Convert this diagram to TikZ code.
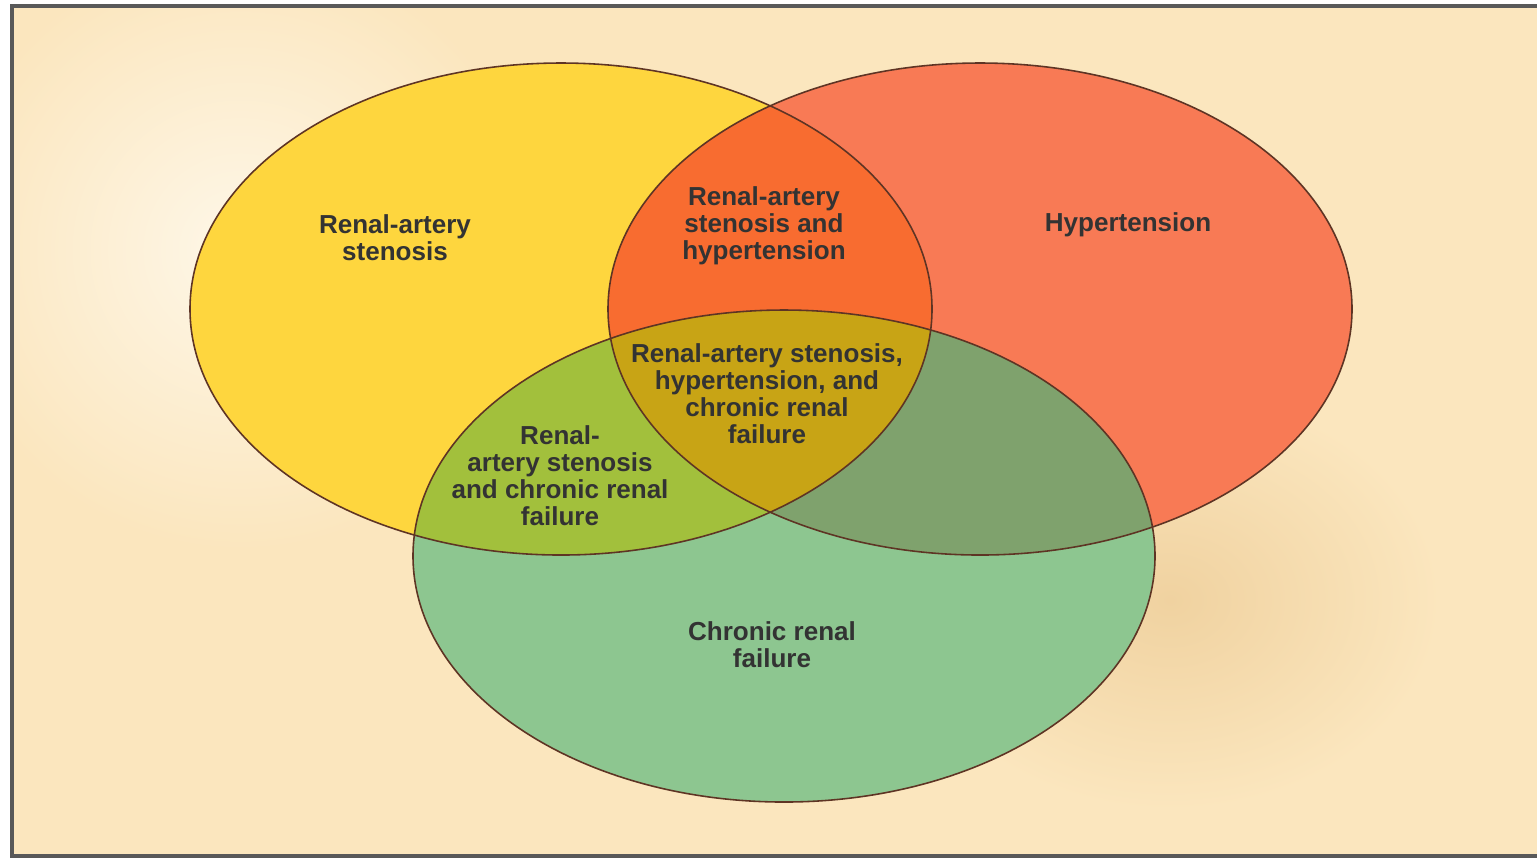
\documentclass[tikz,border=0pt]{standalone}
\usepackage{fontspec}
\setmainfont{Liberation Sans}
\usetikzlibrary{positioning}

\definecolor{bgcol}{HTML}{FBE6BE}
\definecolor{glowcol}{HTML}{FEF7E8}
\definecolor{shadecol}{HTML}{F0D2A0}
\definecolor{yelcol}{HTML}{FED63E}
\definecolor{redcol}{HTML}{F87A55}
\definecolor{grecol}{HTML}{8DC690}
\definecolor{yrcol}{HTML}{F86C30}
\definecolor{ygcol}{HTML}{A2C03C}
\definecolor{rgcol}{HTML}{7FA26D}
\definecolor{allcol}{HTML}{C8A415}
\definecolor{rimcol}{HTML}{5E3424}

% the three sets
\def\yelset{(561,309) ellipse (371 and 246)}
\def\redset{(980,309) ellipse (372 and 246)}
\def\greset{(784,556) ellipse (371 and 246)}

\begin{document}
\begin{tikzpicture}[x=0.01cm,y=-0.01cm,
    lbl/.style={align=center,text=black!80,font=\bfseries\fontsize{7.4}{7.7}\selectfont},
    rim/.style={draw=rimcol,line width=0.45pt}]
    \useasboundingbox (0,0) rectangle (1537,859);

    %sfondo
    \fill[white] (0,0) rectangle (1537,859);
    \fill[bgcol] (12,6) rectangle (1537,856);
    \begin{scope}
        \clip (12,6) rectangle (1537,856);
        \shade[inner color=glowcol,outer color=bgcol] (240,250) circle (300);
        \shade[inner color=shadecol,outer color=bgcol] (1170,600) ellipse (270 and 210);
    \end{scope}
    \draw[gray!70!black,line width=1.1pt] (1537,6) -- (12,6) -- (12,856) -- (1537,856);

    %insiemi
    \fill[yelcol] \yelset;
    \fill[redcol] \redset;
    \fill[grecol] \greset;

    %intersezioni
    \begin{scope}
        \clip \yelset;
        \fill[yrcol] \redset;
        \fill[ygcol] \greset;
    \end{scope}
    \begin{scope}
        \clip \redset;
        \fill[rgcol] \greset;
    \end{scope}
    \begin{scope}
        \clip \yelset;
        \clip \redset;
        \fill[allcol] \greset;
    \end{scope}

    %bordi
    \draw[rim] \yelset;
    \draw[rim] \redset;
    \draw[rim] \greset;

    %etichette
    \node[lbl] (ras) at (395,238) {Renal-artery\\stenosis};
    \node[lbl] (hyp) at (1128,225) {Hypertension};
    \node[lbl] (rash) at (764,226) {Renal-artery\\stenosis and\\hypertension};
    \node[lbl] (all) at (767,394) {Renal-artery stenosis,\\hypertension, and\\chronic renal\\failure};
    \node[lbl] (rasc) at (560,476) {Renal-\\artery stenosis\\and chronic renal\\failure};
    \node[lbl] (crf) at (772,645) {Chronic renal\\failure};
\end{tikzpicture}
\end{document}
